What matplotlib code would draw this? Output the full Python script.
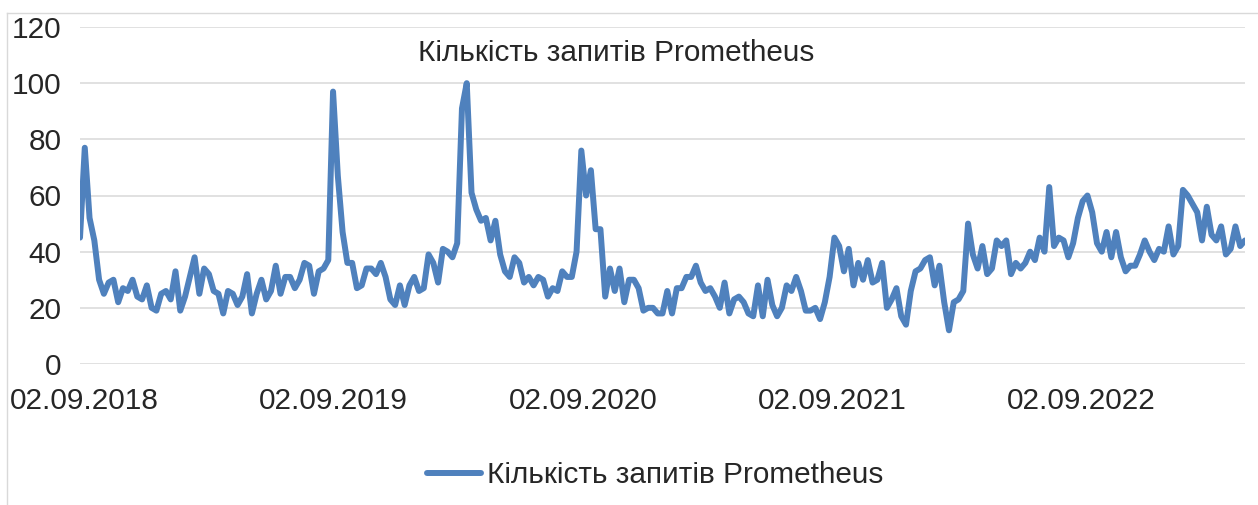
import matplotlib
matplotlib.use('Agg')
import matplotlib.pyplot as plt
import matplotlib.dates as mdates
from matplotlib.lines import Line2D
import numpy as np
import pandas as pd

# weekly values
start_date = '2018-08-26'
values = [
    45, 77, 52, 44, 30, 25, 29, 30, 22, 27, 26, 30, 24, 23, 28, 20, 19, 25, 26, 23,
    33, 19, 24, 31, 38, 25, 34, 32, 26, 25, 18, 26, 25, 21, 24, 32, 18, 25, 30, 23,
    26, 35, 25, 31, 31, 27, 30, 36, 35, 25, 33, 34, 37, 97, 67, 47, 36, 36, 27, 28,
    34, 34, 32, 36, 31, 23, 21, 28, 21, 28, 31, 26, 27, 39, 36, 29, 41, 40, 38, 43,
    91, 100, 61, 55, 51, 52, 44, 51, 39, 33, 31, 38, 36, 29, 31, 28, 31, 30, 24, 27,
    26, 33, 31, 31, 40, 76, 60, 69, 48, 48, 24, 34, 26, 34, 22, 30, 30, 27, 19, 20,
    20, 18, 18, 26, 18, 27, 27, 31, 31, 35, 29, 26, 27, 24, 20, 29, 18, 23, 24, 22,
    18, 17, 28, 17, 30, 21, 17, 20, 28, 26, 31, 26, 19, 19, 20, 16, 22, 31, 45, 42,
    33, 41, 28, 36, 30, 37, 29, 30, 36, 20, 23, 27, 17, 14, 26, 33, 34, 37, 38, 28,
    35, 22, 12, 22, 23, 26, 50, 39, 34, 42, 32, 34, 44, 42, 44, 32, 36, 34, 36, 40,
    37, 45, 40, 63, 42, 45, 44, 38, 43, 52, 58, 60, 54, 43, 40, 47, 38, 47, 38, 33,
    35, 35, 39, 44, 40, 37, 41, 40, 49, 39, 42, 62, 60, 57, 54, 44, 56, 46, 44, 49,
    39, 41, 49, 42, 44,
]
dates = pd.date_range(start_date, periods=len(values), freq='7D')

tick_dates = pd.to_datetime(['2018-09-02', '2019-09-02', '2020-09-02', '2021-09-02', '2022-09-02'])
y_ticks = [0, 20, 40, 60, 80, 100, 120]
series_name = 'Кількість запитів Prometheus'

plt.rcParams['font.family'] = ['Liberation Sans', 'DejaVu Sans']
text_color = '#262626'
grid_color = '#D9D9D9'
line_color = '#4F81BD'
fs = 21.4

W, H = 1258, 505
fig = plt.figure(figsize=(W / 100, H / 100), dpi=100)
ax = fig.add_axes([80 / W, 1 - 364 / H, 1165 / W, 337 / H])

ax.plot(dates, values, color=line_color, lw=4.3, solid_joinstyle='round',
        solid_capstyle='round', label=series_name, zorder=3)

ax.set_xlim(dates[0], dates[-1])
ax.set_ylim(0, 120)
ax.set_yticks(y_ticks)
ax.set_xticks(tick_dates)
ax.xaxis.set_major_formatter(mdates.DateFormatter('%d.%m.%Y'))
ax.grid(axis='y', color=grid_color, lw=1.1)
ax.set_axisbelow(True)
for s in ax.spines.values():
    s.set_visible(False)
ax.tick_params(axis='both', length=0, labelsize=fs, labelcolor=text_color)
ax.tick_params(axis='y', pad=13.5)
ax.tick_params(axis='x', pad=16.3)

fig.text(616 / W, 1 - 61 / H, series_name, ha='center', va='baseline',
         fontsize=fs, color=text_color)

fig.legend(handles=ax.get_lines(), loc='center', bbox_to_anchor=(655 / W, 1 - 475 / H),
           frameon=False, fontsize=fs, handlelength=1.8, handletextpad=0.2,
           borderpad=0, labelcolor=text_color)

# chart border (runs off the right and bottom edge of the picture)
fig.add_artist(Line2D([7 / W, 7 / W], [0, 1 - 12.5 / H], color=grid_color, lw=1.0))
fig.add_artist(Line2D([7 / W, 1], [1 - 12.5 / H, 1 - 12.5 / H], color=grid_color, lw=1.0))

fig.savefig('out.png', dpi=100)
